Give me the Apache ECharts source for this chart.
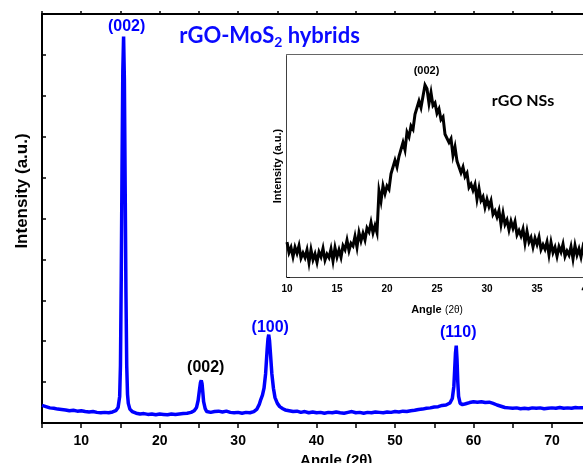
<!DOCTYPE html>
<html>
<head>
<meta charset="utf-8">
<script src="https://cdn.jsdelivr.net/npm/echarts@6/dist/echarts.min.js"></script>
<style>
  html, body { margin: 0; padding: 0; background: #fff; }
  #chart { width: 583px; height: 463px; }
</style>
</head>
<body>
<div id="chart"></div>
<script>
// rGO-MoS2 hybrids pattern (main panel)
const hybridAngles = [
  5.0, 5.5, 6.0, 6.5, 7.0, 7.5, 8.0, 8.5, 9.0, 9.5, 10.0, 10.5, 11.0, 11.5, 12.0, 12.5, 13.0, 13.5, 14.0, 14.4, 14.7, 14.9,
  15.0, 15.1, 15.2, 15.3, 15.4, 15.5, 15.6, 15.7, 15.8, 15.9, 16.0, 16.2, 16.5, 17.0, 17.5, 18.0, 18.5, 19.0, 19.5,
  20.0, 20.5, 21.0, 21.5, 22.0, 22.5, 23.0, 23.5, 24.0, 24.4, 24.7, 24.9, 25.1, 25.2, 25.3, 25.4, 25.5, 25.6, 25.8,
  26.0, 26.5, 27.0, 27.5, 28.0, 28.5, 29.0, 29.5, 30.0, 30.5, 31.0, 31.5, 32.0, 32.4, 32.7, 32.9, 33.1, 33.3, 33.5,
  33.7, 33.8, 33.9, 34.0, 34.1, 34.3, 34.5, 34.7, 35.0, 35.3, 35.7, 36.0, 36.5, 37.0, 37.5, 38.0, 38.5, 39.0, 39.5,
  40.0, 40.5, 41.0, 41.5, 42.0, 42.5, 43.0, 43.5, 44.0, 44.5, 45.0, 45.5, 46.0, 46.5, 47.0, 47.5, 48.0, 48.5, 49.0,
  49.5, 50.0, 50.5, 51.0, 51.5, 52.0, 52.5, 53.0, 53.5, 54.0, 54.5, 55.0, 55.5, 56.0, 56.5, 57.0, 57.3, 57.5, 57.6,
  57.7, 57.8, 57.9, 58.0, 58.1, 58.3, 58.6, 59.0, 59.5, 60.0, 60.5, 61.0, 61.5, 62.0, 62.5, 63.0, 63.5, 64.0, 64.5,
  65.0, 65.5, 66.0, 66.5, 67.0, 67.5, 68.0, 68.5, 69.0, 69.5, 70.0, 70.5, 71.0, 71.5, 72.0, 72.5, 73.0, 73.5, 74.0,
  75.0, 76.0, 77.0, 78.0, 79.0, 80.0
]
const hybridIntensity = [
  4.3, 4.0, 3.7, 3.6, 3.4, 3.3, 3.2, 3.0, 3.1, 2.9, 3.0, 2.8, 2.7, 2.8, 2.6, 2.5, 2.6, 2.5, 2.7, 3.0, 3.8, 6.5,
  14, 35, 62, 86, 94.5, 84, 58, 32, 14, 7, 4.8, 3.4, 2.8, 2.4, 2.2, 2.3, 2.1, 2.2, 2.0,
  2.2, 2.1, 2.0, 2.2, 2.1, 2.2, 2.3, 2.4, 2.6, 3.0, 3.8, 5.5, 8.5, 9.9, 10.4, 9.6, 7.5, 5.2, 3.5,
  2.8, 2.6, 2.8, 2.9, 2.7, 2.9, 2.6, 2.5, 2.6, 2.4, 2.6, 2.5, 2.8, 3.4, 4.6, 5.8, 6.8, 8.5, 12,
  18, 20.5, 21.6, 20.2, 17.5, 12, 8.5, 6.2, 4.8, 4.0, 3.5, 3.2, 3.0, 2.8, 2.9, 2.6, 2.8, 2.5, 2.7,
  2.5, 2.6, 2.4, 2.6, 2.5, 2.7, 2.5, 2.4, 2.6, 2.8, 2.5, 2.6, 2.4, 2.6, 2.5, 2.7, 2.6, 2.5, 2.7,
  2.6, 2.8, 2.7, 2.9, 2.8, 3.0, 3.1, 3.3, 3.4, 3.6, 3.7, 3.9, 4.0, 4.3, 4.4, 4.9, 6.0, 9, 13,
  17, 18.9, 15.5, 10, 6.5, 4.8, 4.5, 4.7, 5.0, 5.2, 5.1, 5.2, 5.0, 5.1, 4.8, 4.4, 4.1, 3.8, 3.7,
  3.6, 3.7, 3.5, 3.6, 3.5, 3.7, 3.6, 3.7, 3.5, 3.6, 3.7, 3.6, 3.8, 3.6, 3.7, 3.6, 3.8, 3.7, 3.7,
  3.6, 3.7, 3.6, 3.7, 3.6, 3.7
]
const peakAngles = [15.4, 25.3, 33.9, 57.8]
const peakIntensity = [94.5, 10.4, 21.6, 18.9]
const peakNames = ['(002)', '(002)', '(100)', '(110)']
const peakColors = ['#0000ff', '#000000', '#0000ff', '#0000ff']
const peakLabelOffsets = [[3, -10], [4.5, -12.5], [1.5, -7], [2, -13.5]]

// rGO NSs pattern (inset), scanned from 10 deg in 0.2 deg steps
const rgoStart = 10
const rgoStep = 0.2
const rgoIntensity = [
  15.7, 11.0, 13.3, 9.1, 13.4, 10.7, 14.1, 8.5, 10.8, 8.7, 12.2, 6.5, 12.3, 7.8, 10.4, 6.6, 11.3, 9.1, 12.9, 7.6,
  10.3, 8.7, 12.6, 7.2, 13.2, 9.0, 12.2, 8.9, 14.1, 12.3, 16.6, 11.9, 15.2, 14.0, 18.3, 13.4, 20.0, 16.3, 19.7, 16.7,
  22.0, 20.3, 24.6, 19.9, 23.2, 20.0, 38.8, 34.2, 41.1, 37.5, 41.0, 39.5, 46.5, 46.5, 52.6, 49.6, 54.4, 54.8, 60.6, 57.2,
  65.2, 63.1, 68.0, 66.5, 73.3, 73.3, 79.3, 76.3, 81.4, 86.5, 84.8, 78.2, 83.1, 77.2, 78.4, 73.7, 75.7, 70.9, 72.1, 64.3,
  64.4, 60.6, 62.3, 54.7, 58.6, 52.2, 52.9, 47.0, 49.5, 45.2, 46.8, 40.4, 41.9, 39.1, 41.7, 35.0, 39.9, 34.5, 36.2, 31.4,
  35.0, 31.7, 34.4, 28.2, 29.8, 27.0, 30.0, 23.7, 28.8, 23.7, 25.7, 21.2, 25.1, 22.0, 25.0, 19.0, 21.0, 18.5, 21.6, 15.3,
  20.6, 15.7, 17.8, 13.5, 17.5, 14.7, 18.0, 12.4, 14.6, 12.5, 15.8, 10.0, 15.6, 11.0, 13.4, 9.3, 13.7, 11.3, 14.8, 9.3,
  11.7, 9.9, 13.7, 8.2, 14.2, 9.9, 12.7, 9.0, 13.7, 11.5, 15.3
]

const hybridData = hybridAngles.map((a, i) => [a, hybridIntensity[i]])
const rgoData = rgoIntensity.map((v, i) => [+(rgoStart + i * rgoStep).toFixed(1), v])

const arial = '"Liberation Sans", Arial, sans-serif'
const calibri = 'Lato, "Open Sans", sans-serif'

const chart = echarts.init(document.getElementById('chart'), null, { renderer: 'canvas' })

const option = {
  animation: false,
  backgroundColor: '#fff',
  grid: [
    { left: 42, top: 14, right: -47.4, bottom: 40, outerBoundsMode: 'none', containLabel: false },
    {
      left: 287, top: 55, right: -4, bottom: 186, outerBoundsMode: 'none', containLabel: false,
      show: true, backgroundColor: '#fff', borderWidth: 0, z: 3,
    },
  ],
  xAxis: [
    {
      gridIndex: 0, type: 'value', position: 'bottom', min: 5, max: 80, interval: 5,
      axisLine: { lineStyle: { color: '#000', width: 2 } },
      axisTick: { inside: false, length: 5, lineStyle: { color: '#000', width: 1.5 } },
      axisLabel: {
        color: '#000', fontFamily: arial, fontWeight: 'bold', fontSize: 14, margin: 11,
        formatter: (v) => (v % 10 === 0 ? String(v) : ''),
      },
      splitLine: { show: false },
      name: 'Angle (2θ)', nameLocation: 'middle', nameGap: 25,
      nameTextStyle: { color: '#000', fontFamily: arial, fontWeight: 'bold', fontSize: 15 },
    },
    {
      gridIndex: 0, type: 'value', position: 'top', min: 5, max: 80, interval: 5,
      axisLine: { lineStyle: { color: '#000', width: 2 } },
      axisTick: { inside: false, length: 3, lineStyle: { color: '#000', width: 1.5 } },
      axisLabel: { show: false },
      splitLine: { show: false },
    },
    {
      gridIndex: 1, type: 'value', position: 'bottom', min: 10, max: 40, interval: 5,
      axisLine: { lineStyle: { color: '#000', width: 1.5 } },
      axisTick: { inside: true, length: 4, lineStyle: { color: '#000', width: 1 } },
      minorTick: { show: true, splitNumber: 2, length: 3, lineStyle: { color: '#000', width: 1 } },
      axisLabel: { color: '#000', fontFamily: arial, fontWeight: 'bold', fontSize: 10, margin: 7 },
      splitLine: { show: false },
      name: '{b|Angle} {n|(2θ)}', nameLocation: 'middle', nameGap: 27,
      nameTextStyle: {
        rich: {
          b: { color: '#000', fontFamily: arial, fontWeight: 'bold', fontSize: 11 },
          n: { color: '#000', fontFamily: arial, fontSize: 10 },
        },
      },
    },
    {
      gridIndex: 1, type: 'value', position: 'top', min: 10, max: 40, interval: 5,
      axisLine: { lineStyle: { color: '#666', width: 2 } },
      axisTick: { inside: true, length: 4, lineStyle: { color: '#555', width: 1 } },
      minorTick: { show: true, splitNumber: 2, length: 3, lineStyle: { color: '#555', width: 1 } },
      axisLabel: { show: false },
      splitLine: { show: false },
    },
  ],
  yAxis: [
    {
      gridIndex: 0, type: 'value', min: 0, max: 100, interval: 10,
      axisLine: { show: true, lineStyle: { color: '#000', width: 2 } },
      axisTick: { show: true, inside: true, length: 4, lineStyle: { color: '#000', width: 1.5 } },
      axisLabel: { show: false },
      splitLine: { show: false },
    },
    {
      gridIndex: 1, type: 'value', min: 0, max: 100, interval: 10,
      axisLine: { show: true, lineStyle: { color: '#000', width: 1.5 } },
      axisTick: { show: true, inside: true, length: 3, lineStyle: { color: '#000', width: 1 } },
      axisLabel: { show: false },
      splitLine: { show: false },
      name: 'Intensity (a.u.)', nameLocation: 'middle', nameGap: 4,
      nameTextStyle: { color: '#000', fontFamily: arial, fontWeight: 'bold', fontSize: 11 },
    },
  ],
  series: [
    {
      name: 'rGO-MoS2 hybrids',
      type: 'line',
      xAxisIndex: 0,
      yAxisIndex: 0,
      data: hybridData,
      showSymbol: false,
      lineStyle: { color: '#0000ff', width: 3.5 },
      z: 2,
      markPoint: {
        symbol: 'circle',
        symbolSize: 0,
        data: peakAngles.map((a, i) => ({
          coord: [a, peakIntensity[i]],
          name: peakNames[i],
          label: { color: peakColors[i], offset: peakLabelOffsets[i] },
        })),
        label: {
          show: true, position: 'inside', formatter: (p) => p.name,
          fontFamily: arial, fontWeight: 'bold', fontSize: 16,
        },
      },
    },
    {
      name: 'rGO NSs',
      type: 'line',
      xAxisIndex: 2,
      yAxisIndex: 1,
      data: rgoData,
      showSymbol: false,
      lineStyle: { color: '#000', width: 3, join: 'miter' },
      z: 5,
      markPoint: {
        symbol: 'circle',
        symbolSize: 0,
        data: [{ coord: [23.8, 82.9], name: '(002)' }],
        label: {
          show: true, position: 'inside', formatter: (p) => p.name, offset: [1.5, -22],
          color: '#000', fontFamily: arial, fontWeight: 'bold', fontSize: 11,
        },
      },
    },
  ],
  graphic: [
    {
      type: 'text', x: 269.5, y: 36, z: 10,
      style: {
        text: '{m|rGO-MoS}{s|2}{m| hybrids}', align: 'center', verticalAlign: 'middle',
        rich: {
          m: { fill: '#0a0aff', fontFamily: calibri, fontWeight: 'bold', fontSize: 22, lineHeight: 26 },
          s: { fill: '#0a0aff', fontFamily: calibri, fontWeight: 'bold', fontSize: 14, lineHeight: 14, padding: [12, 0, 0, 0] },
        },
      },
    },
    {
      type: 'text', x: 523, y: 101, z: 10,
      style: {
        text: 'rGO NSs', align: 'center', verticalAlign: 'middle',
        fill: '#000', fontFamily: calibri, fontWeight: 'bold', fontSize: 16,
      },
    },
    {
      type: 'text', x: 22, y: 191, rotation: Math.PI / 2, z: 10,
      style: {
        text: 'Intensity (a.u.)', align: 'center', verticalAlign: 'middle',
        fill: '#000', fontFamily: arial, fontWeight: 'bold', fontSize: 17,
      },
    },
  ],
}

chart.setOption(option)
</script>
</body>
</html>
